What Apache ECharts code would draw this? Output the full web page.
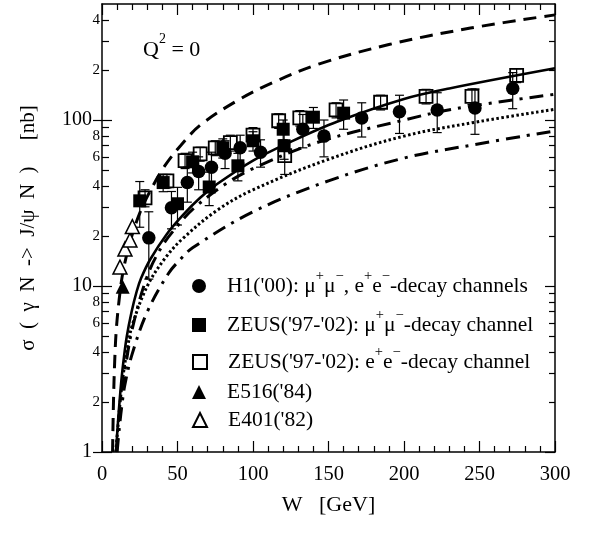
<!DOCTYPE html>
<html><head><meta charset="utf-8">
<script src="https://cdn.jsdelivr.net/npm/echarts@6/dist/echarts.min.js"></script>
<style>html,body{margin:0;padding:0;background:#fff}#c{width:589px;height:539px}</style>
</head><body><div id="c"></div>
<script>
// ---- tick values ----
const yLabelValues = [1,2,4,6,8,10,20,40,60,80,100,200,400];
const yDecadeTicks = [1,10,100];
const yMinorTicks = [2,3,4,5,6,7,8,9,20,30,40,50,60,70,80,90,200,300,400];

// ---- data points [W, sigma, error] ----
const h1Data = [[31,19.5,8.5],[46,29.6,7.5],[56.5,42,10],[64,49,11],[72.5,52,12],[81.5,63,12],[91.5,68,13],[105,64,12],[133,88,20],[147,80,20],[172,103,24],[197,112,29],[222,115,31],[247,118,36],[272,155,38]];
const zeusMuData = [[25,32.6,10],[40.5,42,5],[50,31.3,8],[60,56,8],[71,39.5,9],[80,68,9],[90,53,10],[100,75,10],[120,88,12],[120.6,70,12],[140,104,15],[160,110,22]];
const zeusEData = [[28.5,34,4],[43,43,4],[55,57,6],[65,62.5,6],[75,68,7],[85,73,8],[100,81,9],[117,99,10],[121,61,14],[131,103,11],[155,115,12],[184.5,128,13],[214.6,139,14],[245,139,15],[274.6,186,18]];
const e516Data = [[13.7,9.9]];
const e401Data = [[11.9,13],[15.2,16.7],[18.5,18.9],[20.1,22.8]];

// ---- theory curves [W, sigma] ----
const dashedCurve = [[7,1],[7.6,2],[8.4,3.5],[9.5,5.5],[11.5,8.5],[14,12.3],[19,19],[25,27.5],[32,37.5],[41,52],[52,70],[65,93],[89,130],[113,168],[144,218],[190,285],[244,358],[300,430]];
const solidCurve = [[9.3,1],[10.2,1.35],[11.5,1.95],[13,2.8],[14.5,3.7],[16.3,4.9],[19.6,7],[23,9.3],[26,11.2],[32,14.5],[43,20.6],[54,27],[65,34],[76,41],[100,57],[125,74],[156,98],[200,134],[230,155],[300,205]];
const upperDashDotCurve = [[9.6,1],[11,1.45],[12.5,2],[15,3],[20,5.5],[30,11.5],[40,17.5],[50,23],[60,29],[81.5,41],[100,51],[144,74],[200,100],[234,117],[300,143]];
const dottedCurve = [[9.1,1],[10.5,1.4],[12,2],[14,2.9],[17,4.3],[20,5.8],[30,10],[42,14.8],[54,19.5],[76,28.5],[100,38],[150,58],[200,80],[250,98],[300,116]];
const lowerDashDotCurve = [[10,1],[11.5,1.4],[13,1.85],[15,2.5],[20,3.9],[30,7],[44,11.9],[52,14.5],[60,17],[100,28],[150,43],[200,59],[250,72],[300,86]];

const FONT = 'Liberation Serif';
const chart = echarts.init(document.getElementById('c'), null, {renderer:'canvas'});

function errRender(params, api) {
  const x = api.value(0), y = api.value(1), e = api.value(2);
  const t = api.coord([x, y + e]);
  const b = api.coord([x, Math.max(y - e, 1.01)]);
  const hw = 4.5, st = {stroke:'#000', lineWidth:1.2};
  return {type:'group', children:[
    {type:'line', shape:{x1:t[0], y1:t[1], x2:b[0], y2:b[1]}, style:st},
    {type:'line', shape:{x1:t[0]-hw, y1:t[1], x2:t[0]+hw, y2:t[1]}, style:st},
    {type:'line', shape:{x1:b[0]-hw, y1:b[1], x2:b[0]+hw, y2:b[1]}, style:st}
  ]};
}

const names = ['H1', 'ZEUSmu', 'ZEUSe', 'E516', 'E401'];
const legendText = {
  'H1': "H1('00): μ{sup|+}μ{sup|−}, e{sup|+}e{sup|−}-decay channels",
  'ZEUSmu': "ZEUS('97-'02): μ{sup|+}μ{sup|−}-decay channel",
  'ZEUSe': "ZEUS('97-'02): e{sup|+}e{sup|−}-decay channel",
  'E516': "E516('84)",
  'E401': "E401('82)"
};
const legendCenters = [286, 325, 362, 392, 420];

function lineSeries(data, type, width) {
  return {type:'line', data:data, symbol:'none', smooth:0.35, silent:true,
    lineStyle:{color:'#000', width:width, type:type}, z:3};
}
function errSeries(data) {
  return {type:'custom', data:data, renderItem:errRender, encode:{x:0, y:1}, silent:true, z:4};
}

const baseAxisLine = {show:true, lineStyle:{color:'#000', width:1.5}};
const tickStyle = {color:'#000', width:1.2};

const option = {
  backgroundColor:'#fff',
  animation:false,
  grid:{left:102, right:34, top:4, bottom:87},
  xAxis:[
    {type:'value', position:'bottom', min:0, max:300, interval:50,
     axisLine:baseAxisLine, splitLine:{show:false},
     axisTick:{inside:true, length:11, lineStyle:tickStyle},
     minorTick:{show:true, splitNumber:5, length:6, lineStyle:tickStyle},
     axisLabel:{fontFamily:FONT, fontSize:20.5, color:'#000', margin:12},
     name:'W   [GeV]', nameLocation:'middle', nameGap:42,
     nameTextStyle:{fontFamily:FONT, fontSize:22, color:'#000'}},
    {type:'value', position:'top', min:0, max:300, interval:50,
     axisLine:baseAxisLine, splitLine:{show:false},
     axisTick:{inside:true, length:11, lineStyle:tickStyle},
     minorTick:{show:true, splitNumber:5, length:6, lineStyle:tickStyle},
     axisLabel:{show:false}}
  ],
  yAxis:[
    {type:'log', logBase:10, min:1, max:500, position:'left',
     axisLine:baseAxisLine, splitLine:{show:false},
     axisTick:{inside:true, length:10, lineStyle:tickStyle, customValues:yDecadeTicks},
     axisLabel:{customValues:yLabelValues, margin:2, color:'#000', fontFamily:FONT,
       formatter:function(v){
         if (v === 1 || v === 10 || v === 100) return '{big|' + v + '}';
         let d = v; while (d >= 10) d = d / 10;
         return '{small|' + Math.round(d) + '}';
       },
       rich:{big:{fontFamily:FONT, fontSize:20, color:'#000', padding:[0,8,0,0]},
             small:{fontFamily:FONT, fontSize:15, color:'#000'}}},
     name:'σ  (  γ  N  ->  J/ψ  N  )     [nb]', nameLocation:'middle', nameGap:63,
     nameTextStyle:{fontFamily:FONT, fontSize:21, color:'#000'}},
    {type:'log', logBase:10, min:1, max:500, position:'left',
     axisLine:{show:false}, splitLine:{show:false}, axisLabel:{show:false},
     axisTick:{inside:true, length:7, lineStyle:tickStyle, customValues:yMinorTicks}},
    {type:'log', logBase:10, min:1, max:500, position:'left',
     axisLine:{show:false}, splitLine:{show:false}, axisLabel:{show:false},
     axisTick:{inside:false, length:9, lineStyle:tickStyle, customValues:yDecadeTicks}},
    {type:'log', logBase:10, min:1, max:500, position:'right',
     axisLine:baseAxisLine, splitLine:{show:false}, axisLabel:{show:false},
     axisTick:{inside:true, length:10, lineStyle:tickStyle, customValues:yDecadeTicks}},
    {type:'log', logBase:10, min:1, max:500, position:'right',
     axisLine:{show:false}, splitLine:{show:false}, axisLabel:{show:false},
     axisTick:{inside:true, length:6, lineStyle:tickStyle, customValues:yMinorTicks}}
  ],
  legend: names.map(function(n, i){
    return {data:[n], left:187, top:legendCenters[i] - 22, orient:'vertical',
      itemWidth:14, itemHeight:14, selectedMode:false,
      formatter:function(name){ return legendText[name]; },
      textStyle:{fontFamily:FONT, fontSize:21.5, color:'#000', lineHeight:34, padding:[0,0,0,16],
        rich:{sup:{fontFamily:FONT, fontSize:14.5, color:'#000', verticalAlign:'top', lineHeight:14}}}};
  }),
  graphic:[
    {type:'text', left:143, top:32, silent:true,
     style:{text:'Q{sup|2} = 0', fontFamily:FONT, fontSize:22, fill:'#000', lineHeight:36,
       rich:{sup:{fontFamily:FONT, fontSize:14, fill:'#000', verticalAlign:'top', lineHeight:14}}}}
  ],
  series:[
    lineSeries(dashedCurve, [13,8], 3),
    lineSeries(solidCurve, 'solid', 2.6),
    lineSeries(upperDashDotCurve, [14,7,3,7], 3),
    lineSeries(dottedCurve, [2.5,2.5], 3),
    lineSeries(lowerDashDotCurve, [14,7,3,7], 3),
    errSeries(h1Data), errSeries(zeusMuData), errSeries(zeusEData),
    {name:'H1', type:'scatter', data:h1Data, symbol:'circle', symbolSize:13.5,
     itemStyle:{color:'#000', opacity:1}, z:5},
    {name:'ZEUSmu', type:'scatter', data:zeusMuData, symbol:'rect', symbolSize:13,
     itemStyle:{color:'#000', opacity:1}, z:5},
    {name:'ZEUSe', type:'scatter', data:zeusEData, symbol:'rect', symbolSize:13,
     itemStyle:{color:'rgba(255,255,255,0)', borderColor:'#000', borderWidth:1.8, opacity:1}, z:6},
    {name:'E516', type:'scatter', data:e516Data, symbol:'triangle', symbolSize:14,
     itemStyle:{color:'#000', opacity:1}, z:5},
    {name:'E401', type:'scatter', data:e401Data, symbol:'triangle', symbolSize:14,
     itemStyle:{color:'#fff', borderColor:'#000', borderWidth:1.5, opacity:1}, z:5}
  ]
};
chart.setOption(option);
</script></body></html>
